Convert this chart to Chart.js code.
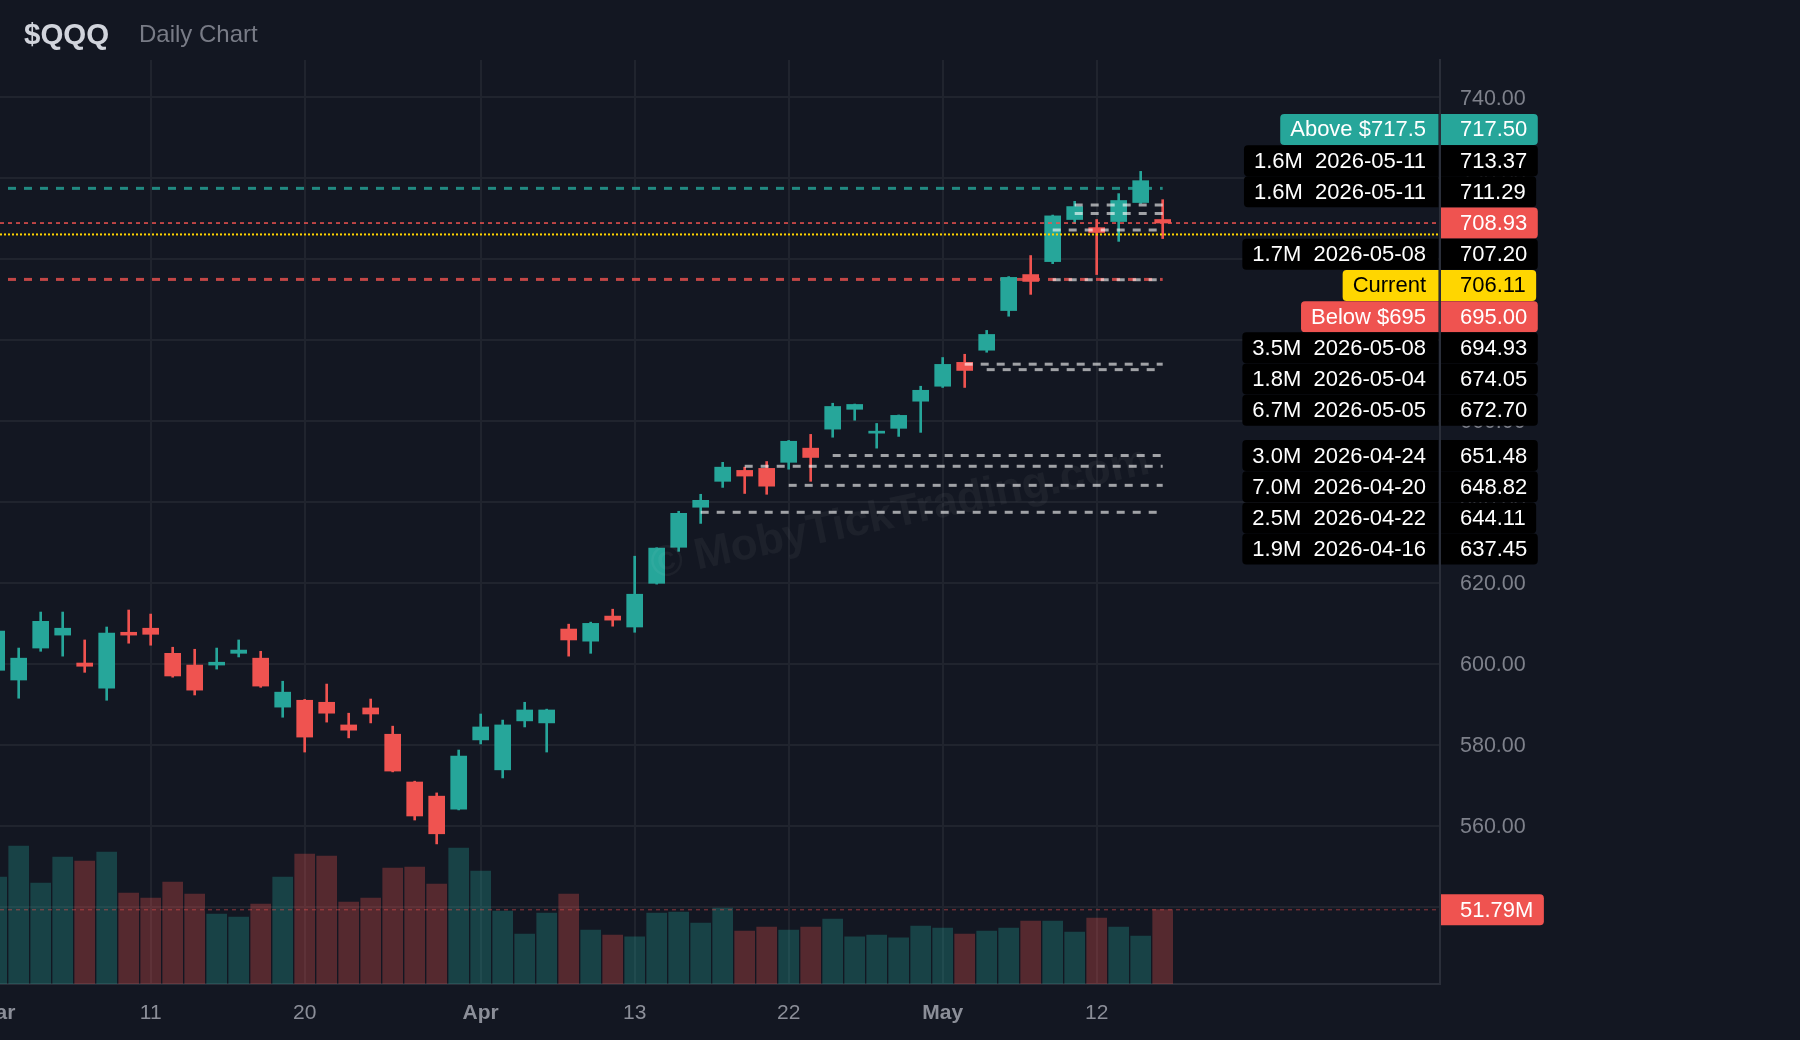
<!DOCTYPE html>
<html lang="en">
<head>
    <meta charset="UTF-8">
    <title>$QQQ Daily Chart</title>
    <style>
        body { margin: 0; background: #131722; overflow: hidden; width: 1800px; height: 1040px; }
        .t { position: absolute; white-space: nowrap; line-height: 1; font-family: 'Liberation Sans', Arial, sans-serif; }
        #wrap { position: absolute; left: -40px; top: 0; width: 1840px; height: 1040px; }
    </style>
</head>
<body>
<div id="wrap"><canvas id="chart" width="1840" height="1040"></canvas></div>
<div class="t" style="left:24px;top:18.5px;font-size:29.5px;font-weight:bold;color:#d1d4dc">$QQQ</div>
<div class="t" style="left:139px;top:22px;font-size:24px;color:#787b86">Daily Chart</div>

<script src="https://cdn.jsdelivr.net/npm/chart.js"></script>
<script>
    // trading days shown (first one is cut off at the left edge)
    const dates = [
      '2026-03-02','2026-03-03','2026-03-04','2026-03-05','2026-03-06','2026-03-09','2026-03-10','2026-03-11',
      '2026-03-12','2026-03-13','2026-03-16','2026-03-17','2026-03-18','2026-03-19','2026-03-20','2026-03-23',
      '2026-03-24','2026-03-25','2026-03-26','2026-03-27','2026-03-30','2026-03-31','2026-04-01','2026-04-02',
      '2026-04-06','2026-04-07','2026-04-08','2026-04-09','2026-04-10','2026-04-13','2026-04-14','2026-04-15',
      '2026-04-16','2026-04-17','2026-04-20','2026-04-21','2026-04-22','2026-04-23','2026-04-24','2026-04-27',
      '2026-04-28','2026-04-29','2026-04-30','2026-05-01','2026-05-04','2026-05-05','2026-05-06','2026-05-07',
      '2026-05-08','2026-05-11','2026-05-12','2026-05-13','2026-05-14','2026-05-15'
    ];
    const opens  = [598.4,596.0,603.9,607.1,600.2,594.0,607.8,608.8,602.6,599.7,599.7,602.6,601.4,589.3,591.0,590.5,
                    584.9,589.1,582.6,570.8,567.3,564.1,581.2,573.8,585.9,585.4,608.6,605.6,611.8,609.1,619.9,628.8,
                    638.7,645.1,647.8,648.3,649.8,653.3,658.0,662.9,657.0,658.2,664.9,668.6,674.5,677.5,687.3,696.2,
                    699.4,709.8,707.8,709.3,714.0,709.8];
    const highs  = [608.6,603.9,612.8,612.8,605.9,609.1,613.3,612.3,604.1,603.6,603.9,605.9,603.1,595.7,591.2,595.0,
                    587.8,591.3,584.6,571.0,568.1,578.7,587.6,586.1,590.5,588.8,609.8,610.3,613.5,626.6,628.7,637.7,
                    641.9,649.8,648.6,650.0,655.2,656.7,664.4,664.2,659.4,661.5,668.6,675.7,676.5,682.4,695.7,700.9,
                    710.9,714.3,709.8,716.2,721.7,714.7];
    const lows   = [597.0,591.5,603.1,601.9,597.9,591.0,605.1,604.6,596.7,592.3,598.7,601.7,594.2,586.8,578.2,585.6,
                    581.7,585.4,573.3,561.4,555.5,563.9,580.2,571.8,584.4,578.2,601.9,602.6,609.3,607.8,619.7,627.8,
                    634.7,643.6,642.1,641.9,648.1,645.1,656.0,660.2,653.3,656.2,657.2,668.3,668.3,677.0,685.9,691.3,
                    698.9,708.8,696.2,704.4,713.8,705.1];
    const closes = [608.1,601.4,610.5,608.8,599.4,607.6,607.1,607.3,597.0,593.5,600.4,603.4,594.5,593.0,581.9,587.8,
                    583.6,587.6,573.5,562.4,558.0,577.2,584.4,584.9,588.6,588.6,605.9,610.0,610.8,617.2,628.6,637.2,
                    640.4,648.6,646.4,643.9,655.0,651.0,663.6,664.1,657.5,661.4,667.6,674.0,672.5,681.4,695.5,694.5,
                    710.7,713.0,706.6,714.5,719.4,708.93];
    // volume in millions
    const volumes = [74.6,96.2,70.4,88.5,85.7,92.0,63.4,59.9,71.1,62.7,48.8,46.7,55.7,74.6,90.6,89.2,
                     57.1,59.9,80.8,81.5,69.7,94.8,78.7,50.9,34.8,49.5,62.7,37.6,34.1,32.8,49.5,50.2,
                     42.5,53.0,36.9,39.7,37.6,39.7,45.3,32.8,34.1,32.1,40.4,39.0,34.8,36.9,39.0,43.9,
                     43.9,36.2,46.0,39.7,33.4,51.79];

    const tickDates  = ['2026-03-02','2026-03-11','2026-03-20','2026-04-01','2026-04-13','2026-04-22','2026-05-01','2026-05-12'];
    const tickLabels = ['Mar','11','20','Apr','13','22','May','12'];
    const priceTicks = [540, 560, 580, 600, 620, 640, 660, 680, 700, 720, 740];

    // price levels (volume / date of origin)
    const levelPrices  = [713.37, 711.29, 707.20, 694.93, 674.05, 672.70, 651.48, 648.82, 644.11, 637.45];
    const levelVolumes = ['1.6M','1.6M','1.7M','3.5M','1.8M','6.7M','3.0M','7.0M','2.5M','1.9M'];
    const levelDates   = ['2026-05-11','2026-05-11','2026-05-08','2026-05-08','2026-05-04','2026-05-05',
                          '2026-04-24','2026-04-20','2026-04-22','2026-04-16'];
    const alertAbove = 717.5;
    const alertBelow = 695;
    const currentPrice = 706.11;

    const UP = '#26a69a', DOWN = '#ef5350';
    const GRID = '#20242e', AXIS = '#2a2e39';
    const FONT = "'Liberation Sans', Arial, sans-serif";
    Chart.defaults.font.family = FONT;

    const last = dates.length - 1;
    const isUp = closes.map((c, i) => c >= opens[i]);

    function hline(ctx, x0, x1, y, color, width, dash) {
      ctx.beginPath();
      ctx.setLineDash(dash);
      ctx.lineWidth = width;
      ctx.strokeStyle = color;
      ctx.moveTo(x0, y);
      ctx.lineTo(x1, y);
      ctx.stroke();
    }

    function tag(ctx, area, y, left, right, bg, fg) {
      const h = 31, top = y - h / 2;
      ctx.font = '22px ' + FONT;
      ctx.textBaseline = 'middle';
      const rw = ctx.measureText(right).width;
      ctx.fillStyle = bg;
      ctx.beginPath();
      ctx.roundRect(area.right + 1, top, 19 + rw + 10.5, h, [0, 4, 4, 0]);
      ctx.fill();
      ctx.fillStyle = fg;
      ctx.textAlign = 'left';
      ctx.fillText(right, area.right + 20, y + 1);
      if (left) {
        const lw = ctx.measureText(left).width;
        const x1 = area.right - 1.5, xl = area.right - 14 - lw - 10;
        ctx.fillStyle = bg;
        ctx.beginPath();
        ctx.roundRect(xl, top, x1 - xl, h, [4, 0, 0, 4]);
        ctx.fill();
        ctx.fillStyle = fg;
        ctx.textAlign = 'right';
        ctx.fillText(left, area.right - 14, y + 1);
      }
    }

    const overlay = {
      id: 'overlay',
      beforeDatasetsDraw(chart) {
        const { ctx, chartArea: a, scales: { x, y } } = chart;
        const xe = x.getPixelForValue(last);
        ctx.save();
        hline(ctx, a.left, xe, y.getPixelForValue(alertAbove), 'rgba(38,166,154,0.8)', 3, [8, 8]);
        hline(ctx, a.left, xe, y.getPixelForValue(alertBelow), 'rgba(239,83,80,0.8)', 3, [8, 8]);
        ctx.restore();
      },
      afterDatasetsDraw(chart) {
        const { ctx, chartArea: a, scales: { x, y, yv } } = chart;
        const xe = x.getPixelForValue(last);
        ctx.save();
        levelPrices.forEach((p, i) => {
          hline(ctx, x.getPixelForValue(dates.indexOf(levelDates[i])), xe, y.getPixelForValue(p),
                'rgba(255,255,255,0.6)', 3, [8, 8]);
        });
        hline(ctx, a.left, a.right, y.getPixelForValue(closes[last]), DOWN, 1.5, [4, 4]);
        hline(ctx, a.left, a.right, y.getPixelForValue(currentPrice), '#ffd600', 2, [2, 2]);
        hline(ctx, a.left, a.right, yv.getPixelForValue(volumes[last]), 'rgba(239,83,80,0.4)', 1.5, [4, 4]);
        // watermark
        ctx.setLineDash([]);
        ctx.translate(940, 514);
        ctx.rotate(-12 * Math.PI / 180);
        ctx.font = 'bold 44px ' + FONT;
        ctx.fillStyle = 'rgba(255,255,255,0.045)';
        ctx.textAlign = 'center';
        ctx.textBaseline = 'middle';
        ctx.fillText('© MobyTickTrading.com', 0, 0);
        ctx.restore();
      },
      afterDraw(chart) {
        const { ctx, chartArea: a, scales: { y, yv } } = chart;
        const items = [
          { price: alertAbove, left: 'Above $' + alertAbove, bg: UP, fg: '#ffffff' },
          { price: closes[last], left: null, bg: DOWN, fg: '#ffffff', anchor: true },
          { price: currentPrice, left: 'Current', bg: '#ffd600', fg: '#000000' },
          { price: alertBelow, left: 'Below $' + alertBelow, bg: DOWN, fg: '#ffffff' }
        ];
        levelPrices.forEach((p, i) => items.push({ price: p, left: levelVolumes[i] + '  ' + levelDates[i], bg: '#000000', fg: '#ffffff' }));
        items.sort((p, q) => q.price - p.price);
        const k = items.findIndex(it => it.anchor), pitch = 31.2;
        items.forEach(it => { it.ty = y.getPixelForValue(it.price); });
        items[k].py = items[k].ty;
        for (let i = k - 1; i >= 0; i--) items[i].py = Math.min(items[i].ty, items[i + 1].py - pitch);
        for (let i = k + 1; i < items.length; i++) items[i].py = Math.max(items[i].ty, items[i - 1].py + pitch);
        ctx.save();
        items.forEach(it => tag(ctx, a, it.py, it.left, it.price.toFixed(2), it.bg, it.fg));
        tag(ctx, a, yv.getPixelForValue(volumes[last]), null, volumes[last].toFixed(2) + 'M', DOWN, '#ffffff');
        ctx.restore();
      }
    };

    const ctx = document.getElementById('chart').getContext('2d');
    new Chart(ctx, {
      type: 'bar',
      data: {
        datasets: [
          {
            label: 'body',
            order: 1,
            data: dates.map((d, i) => ({ x: i, y: [opens[i], closes[i]] })),
            backgroundColor: isUp.map(u => u ? UP : DOWN),
            barThickness: 16,
            grouped: false,
            borderWidth: 0,
            borderSkipped: false,
            yAxisID: 'y'
          },
          {
            label: 'wick',
            order: 2,
            data: dates.map((d, i) => ({ x: i, y: [lows[i], highs[i]] })),
            backgroundColor: isUp.map(u => u ? UP : DOWN),
            barThickness: 2,
            grouped: false,
            borderWidth: 0,
            borderSkipped: false,
            yAxisID: 'y'
          },
          {
            label: 'volume',
            order: 3,
            data: volumes.map((v, i) => ({ x: i, y: v })),
            backgroundColor: isUp.map(u => u ? 'rgba(38,166,154,0.3)' : 'rgba(239,83,80,0.3)'),
            barThickness: 20,
            grouped: false,
            borderWidth: 0,
            yAxisID: 'yv'
          }
        ]
      },
      options: {
        responsive: false,
        animation: false,
        events: [],
        layout: { padding: { top: 60, left: 0, right: 0, bottom: 0 } },
        plugins: { legend: { display: false }, tooltip: { enabled: false } },
        scales: {
          x: {
            type: 'linear',
            min: -1.668,
            max: 65.605,
            offset: false,
            grid: { color: GRID, lineWidth: 2, drawTicks: false, offset: false },
            border: { display: true, color: AXIS, width: 2 },
            afterBuildTicks: s => { s.ticks = tickDates.map(d => ({ value: dates.indexOf(d) })); },
            afterFit: s => { s.height = 56; },
            ticks: {
              autoSkip: false,
              maxRotation: 0,
              padding: 16.5,
              color: '#8b8e98',
              callback: v => tickLabels[tickDates.indexOf(dates[v])] ?? '',
              font: c => ({ size: 21, weight: (c.tick && isNaN(c.tick.label)) ? 'bold' : 'normal' })
            }
          },
          y: {
            position: 'right',
            min: 520.88,
            max: 749.22,
            grid: { color: GRID, lineWidth: 2, drawTicks: false },
            border: { display: true, color: AXIS, width: 2 },
            afterBuildTicks: s => { s.ticks = priceTicks.map(v => ({ value: v })); },
            afterFit: s => { s.width = 360; },
            ticks: { padding: 20, labelOffset: 1.5, color: '#7e818b', font: { size: 21.5 }, callback: v => v.toFixed(2) }
          },
          yv: { display: false, min: 0, max: 644 }
        }
      },
      plugins: [overlay]
    });
</script>
</body>
</html>
